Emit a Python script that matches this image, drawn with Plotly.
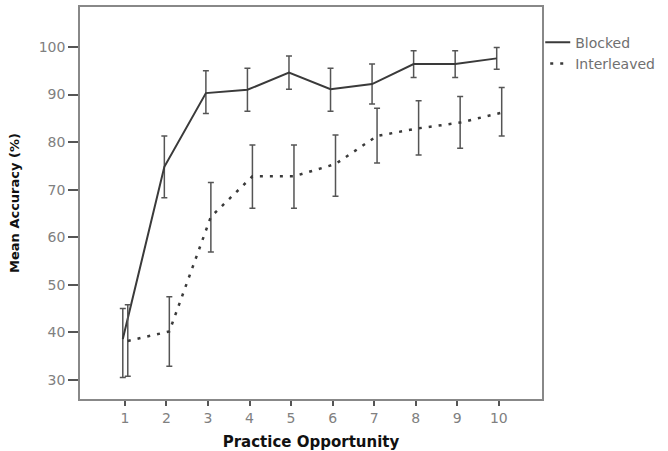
import plotly.graph_objects as go

opportunity = [1, 2, 3, 4, 5, 6, 7, 8, 9, 10]

blocked_mean = [38.6, 74.8, 90.3, 91.0, 94.6, 91.1, 92.2, 96.4, 96.4, 97.6]
blocked_upper = [45.0, 81.3, 95.0, 95.5, 98.1, 95.5, 96.4, 99.2, 99.2, 99.9]
blocked_lower = [30.5, 68.3, 86.0, 86.5, 91.1, 86.5, 88.0, 93.6, 93.6, 95.3]

inter_mean = [38.2, 40.2, 64.3, 72.8, 72.8, 75.4, 81.3, 82.9, 84.1, 86.2]
inter_upper = [45.8, 47.5, 71.5, 79.4, 79.4, 81.5, 87.1, 88.7, 89.6, 91.5]
inter_lower = [30.8, 32.9, 56.9, 66.1, 66.1, 68.6, 75.6, 77.3, 78.7, 81.3]

x_ticks = [1, 2, 3, 4, 5, 6, 7, 8, 9, 10]
y_ticks = [30, 40, 50, 60, 70, 80, 90, 100]

LINE = "#3a3a3a"
ERR = "#555555"
FONT = "DejaVu Sans, Liberation Sans, Arial, sans-serif"

def err(mean, up, lo):
    return ([u - m for u, m in zip(up, mean)], [m - l for m, l in zip(mean, lo)])

bu, bl = err(blocked_mean, blocked_upper, blocked_lower)
iu, il = err(inter_mean, inter_upper, inter_lower)

fig = go.Figure()
fig.add_trace(go.Scatter(
    x=[v - 0.05 for v in opportunity], y=blocked_mean, mode="lines", name="Blocked",
    line=dict(color=LINE, width=2),
    error_y=dict(type="data", symmetric=False, array=bu, arrayminus=bl,
                 color=ERR, thickness=1.5, width=3),
))
fig.add_trace(go.Scatter(
    x=[v + 0.07 for v in opportunity], y=inter_mean, mode="lines", name="Interleaved",
    line=dict(color=LINE, width=2.5, dash="3px,7px"),
    error_y=dict(type="data", symmetric=False, array=iu, arrayminus=il,
                 color=ERR, thickness=1.5, width=3),
))

fig.update_layout(
    width=668, height=451,
    margin=dict(l=80, r=126, t=7, b=52, autoexpand=False),
    paper_bgcolor="white", plot_bgcolor="white",
    font=dict(family=FONT, size=14, color="#808080"),
    showlegend=True,
    legend=dict(x=1.007, y=0.95, xanchor="left", yanchor="top",
                bgcolor="rgba(0,0,0,0)",
                font=dict(family=FONT, size=14, color="#707070"),
                tracegroupgap=0, itemwidth=30, indentation=-10),
    xaxis=dict(range=[-0.08, 11.04], tickvals=x_ticks, ticktext=[str(v) for v in x_ticks],
               automargin=False,
               showgrid=False, zeroline=False, showline=True, linecolor="#888888",
               linewidth=1.5, mirror=True, ticks="outside", ticklen=5, tickwidth=1.5,
               tickcolor="#555555",
               title=dict(text="<b>Practice Opportunity</b>", font=dict(family=FONT, size=15, color="#111111"),
                          standoff=13)),
    yaxis=dict(range=[26.0, 108.4], tickvals=y_ticks, ticktext=[str(v) for v in y_ticks],
               automargin=False,
               showgrid=False, zeroline=False, showline=True, linecolor="#888888",
               linewidth=1.5, mirror=True, ticks="outside", ticklen=10, tickwidth=1.5,
               tickcolor="#555555",
               title=dict(text="<b>Mean Accuracy (%)</b>", font=dict(family=FONT, size=13, color="#111111"),
                          standoff=16)),
)

fig.write_html("out.html", post_script="document.body.style.margin='0';",
               config={"displayModeBar": False})
